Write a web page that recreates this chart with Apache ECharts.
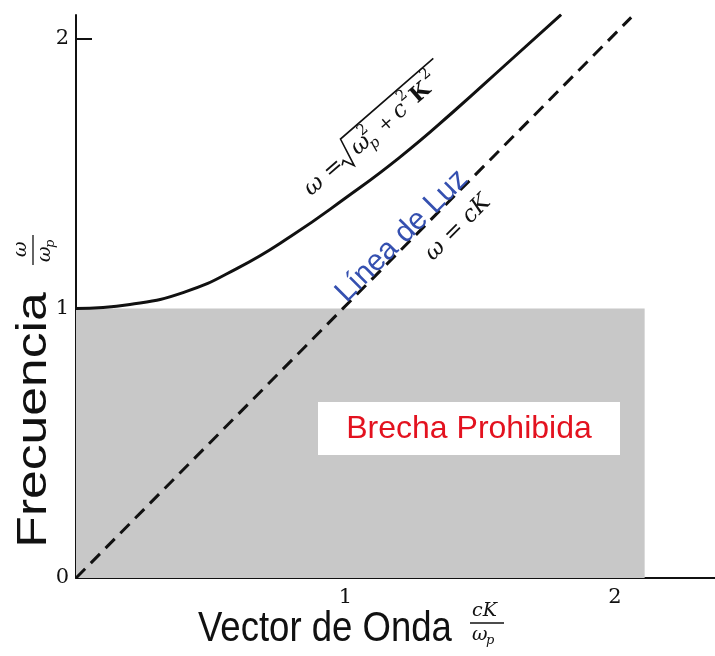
<!DOCTYPE html>
<html>
<head>
<meta charset="utf-8">
<script src="https://cdn.jsdelivr.net/npm/echarts@6/dist/echarts.min.js"></script>
<style>
  html, body { margin: 0; padding: 0; background: #ffffff; }
  #chart { width: 715px; height: 656px; }
</style>
</head>
<body>
<div id="chart"></div>
<script>
// Dispersion relation of a plasma: omega = sqrt(omega_p^2 + c^2 K^2), normalised units
const waveVector = [0, 0.2, 0.4, 0.6, 0.8, 1.0, 1.2, 1.4, 1.6, 1.8];
const frequency  = [1.00, 1.015, 1.06, 1.15, 1.27, 1.41, 1.56, 1.73, 1.91, 2.09];

// Light line omega = cK
const lightK     = [0, 2.06];
const lightOmega = [0, 2.08];

// Forbidden band (below omega_p)
const gapK     = [0, 2.11];
const gapOmega = [0, 1];

// Axis ranges and ticks
const xRange = [0, 2.371];
const yRange = [0, 2.089];
const tickStep = 1;

const SERIF = "'DejaVu Serif', 'Liberation Serif', serif";
const SANS = "'Liberation Sans', Arial, sans-serif";

const curveData = waveVector.map((k, i) => [k, frequency[i]]);
const lightData = lightK.map((k, i) => [k, lightOmega[i]]);

const chart = echarts.init(document.getElementById('chart'), null, { renderer: 'canvas' });

function txt(x, y, text, font, extra) {
  return {
    type: 'text', x: x, y: y,
    style: Object.assign({ text: text, font: font, fill: '#111', verticalAlign: 'middle', align: 'left' }, extra || {})
  };
}

// Stacked fraction used by the axis titles
function fraction(cx, cy, rotation, numParts, denParts, barHalf) {
  return {
    type: 'group', x: cx, y: cy, rotation: rotation,
    children: [
      ...numParts,
      { type: 'line', shape: { x1: -barHalf, y1: 0, x2: barHalf, y2: 0 }, style: { stroke: '#111', lineWidth: 1.3 } },
      ...denParts
    ]
  };
}

const deg = Math.PI / 180;

const option = {
  animation: false,
  backgroundColor: '#ffffff',
  grid: { left: 76, right: 0, top: 15, bottom: 78 },
  xAxis: {
    type: 'value', min: xRange[0], max: xRange[1], interval: tickStep,
    axisLine: { show: true, lineStyle: { color: '#111', width: 2 } },
    axisTick: { show: true, inside: true, length: 16, lineStyle: { color: '#111', width: 2 } },
    axisLabel: { showMinLabel: false, showMaxLabel: false, margin: 9, fontFamily: SERIF, fontSize: 21, color: '#111' },
    splitLine: { show: false }
  },
  yAxis: {
    type: 'value', min: yRange[0], max: yRange[1], interval: tickStep,
    axisLine: { show: true, lineStyle: { color: '#111', width: 2 } },
    axisTick: { show: true, inside: true, length: 16, lineStyle: { color: '#111', width: 2 } },
    axisLabel: { showMaxLabel: false, margin: 7, fontFamily: SERIF, fontSize: 21, color: '#111' },
    splitLine: { show: false }
  },
  series: [
    {
      name: 'Brecha', type: 'line', data: [], z: 1,
      markArea: {
        silent: true,
        itemStyle: { color: '#c8c8c8' },
        data: [[{ coord: [gapK[0], gapOmega[0]] }, { coord: [gapK[1], gapOmega[1]] }]]
      }
    },
    {
      name: 'Luz', type: 'line', data: lightData, z: 3, symbol: 'none',
      lineStyle: { color: '#111', width: 3, type: [13, 8] }
    },
    {
      name: 'Dispersion', type: 'line', data: curveData, z: 4, symbol: 'none', smooth: true,
      lineStyle: { color: '#111', width: 3 }
    }
  ],
  graphic: [
    // Forbidden band caption
    { type: 'rect', shape: { x: 318, y: 402, width: 302, height: 53 }, style: { fill: '#ffffff' }, z: 10 },
    { type: 'text', x: 469, y: 429, z: 11,
      style: { text: 'Brecha Prohibida', font: '32px ' + SANS, fill: '#e3121f', align: 'center', verticalAlign: 'middle' } },

    // Light line caption
    { type: 'text', x: 402, y: 236, rotation: 45 * deg, z: 11,
      style: { text: 'Línea de Luz', font: '30px ' + SANS, fill: '#3550b0', align: 'center', verticalAlign: 'middle' } },

    // omega = cK
    { type: 'text', x: 458, y: 228, rotation: 45 * deg, z: 11,
      style: { text: 'ω = cK', font: 'italic 23px ' + SERIF, fill: '#111', align: 'center', verticalAlign: 'middle' } },

    // omega = sqrt(omega_p^2 + c^2 K^2)
    {
      type: 'group', x: 307, y: 192, rotation: 41 * deg, z: 11,
      children: [
        txt(0, 0, 'ω =', 'italic 23px ' + SERIF),
        { type: 'polyline', shape: { points: [[44, 3], [48, 0], [53, 11], [60, -18], [183, -18]] },
          style: { stroke: '#111', lineWidth: 1.6, fill: null } },
        txt(62, 0, 'ω', 'italic 23px ' + SERIF),
        txt(78, -10, '2', '15px ' + SERIF),
        txt(78, 8, 'p', 'italic 15px ' + SERIF),
        txt(97, 1, '+', '18px ' + SERIF),
        txt(117, 0, 'c', 'italic 23px ' + SERIF),
        txt(130, -10, '2', '15px ' + SERIF),
        txt(141, 0, 'K', 'bold 22px ' + SERIF),
        txt(162, -11, '2', '15px ' + SERIF)
      ]
    },

    // X axis title
    { type: 'text', x: 198, y: 629, scaleX: 0.87,
      style: { text: 'Vector de Onda', font: '42px ' + SANS, fill: '#111', align: 'left', verticalAlign: 'middle' } },
    fraction(487, 623, 0,
      [txt(-15, -12, 'cK', 'italic 19px ' + SERIF)],
      [txt(-15, 12, 'ω', 'italic 19px ' + SERIF), txt(-1, 18, 'p', 'italic 13px ' + SERIF)],
      17),

    // Y axis title
    { type: 'text', x: 34, y: 420, rotation: 90 * deg, scaleX: 1.2,
      style: { text: 'Frecuencia', font: '43px ' + SANS, fill: '#111', align: 'center', verticalAlign: 'middle' } },
    fraction(33, 250, 90 * deg,
      [txt(-7, -12, 'ω', 'italic 19px ' + SERIF)],
      [txt(-12, 12, 'ω', 'italic 19px ' + SERIF), txt(2, 18, 'p', 'italic 13px ' + SERIF)],
      15)
  ]
};

chart.setOption(option);
</script>
</body>
</html>
